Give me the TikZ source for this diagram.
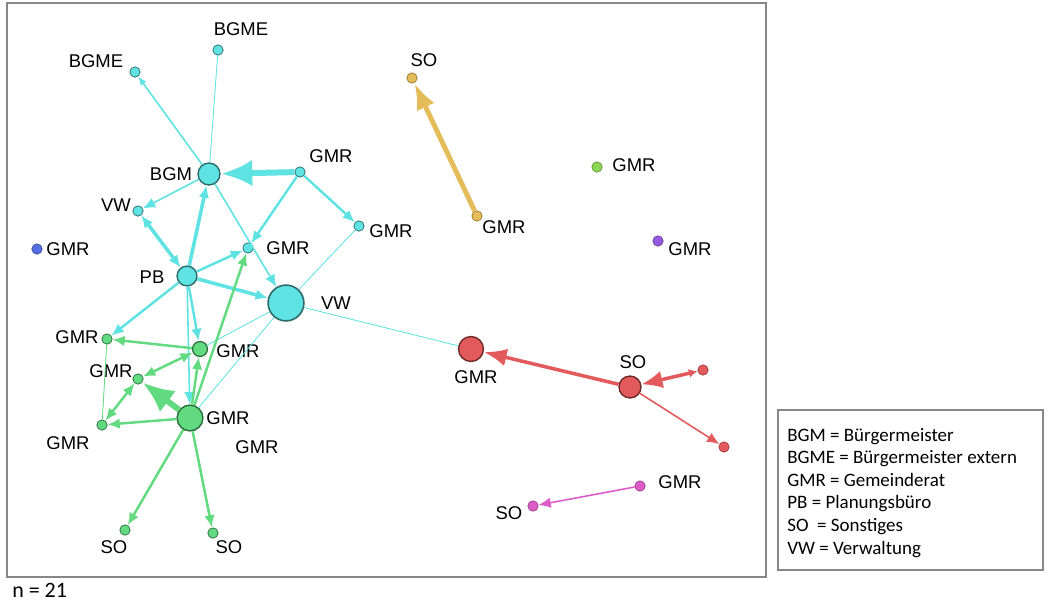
\documentclass[tikz,border=0pt]{standalone}
\usepackage{fontspec}
\setmainfont{Liberation Sans}
\newfontfamily\legfont{Carlito}
\usetikzlibrary{arrows.meta}
\definecolor{cy}{RGB}{94,226,226}
\definecolor{cyD}{RGB}{45,105,105}
\definecolor{gr}{RGB}{98,218,128}
\definecolor{grD}{RGB}{40,110,60}
\definecolor{rd}{RGB}{226,90,92}
\definecolor{rdD}{RGB}{110,40,40}
\definecolor{ye}{RGB}{228,188,90}
\definecolor{yeD}{RGB}{150,120,50}
\definecolor{lg}{RGB}{140,214,84}
\definecolor{pu}{RGB}{150,90,225}
\definecolor{bl}{RGB}{85,110,225}
\definecolor{mg}{RGB}{222,92,200}
\definecolor{frame}{RGB}{135,135,135}
\tikzset{every picture/.style={x=0.02cm, y=-0.02cm}}
\tikzset{dot/.style={circle, draw, line width=0.4pt, inner sep=0pt, minimum size=5.9pt}}
\tikzset{lbl/.style={inner sep=0pt, font=\fontsize{10.5}{12}\selectfont}}
\tikzset{leg/.style={inner sep=0pt, anchor=base west, font=\legfont\fontsize{10.8}{12}\selectfont}}
\tikzset{ce/.style={draw=cy, fill=cy}, ge/.style={draw=gr, fill=gr}}
\tikzset{w0/.style={line width=0.45pt}, w1/.style={line width=0.9pt},
  w2/.style={line width=1.4pt}, w3/.style={line width=2pt},
  w4/.style={line width=2.8pt}, w5/.style={line width=3.4pt}}
\tikzset{ar/.style={-{Latex[length=7pt,width=6pt]}},
  dar/.style={{Latex[length=7pt,width=6pt]}-{Latex[length=7pt,width=6pt]}},
  midar/.style={-{Latex[length=15pt,width=11pt]}},
  bigar/.style={-{Latex[length=18pt,width=15pt]}}}

\begin{document}
\begin{tikzpicture}
\useasboundingbox (0,0) rectangle (1048,602);
\draw[frame, line width=0.6pt] (7,3) rectangle (766,577);

% cyan group
\foreach \n/\x/\y in {me1/135/72, me2/218/50, c1/300/172, vs/138/211, c2/359/226, c3/248/248}
  \node[dot, fill=cy, draw=cyD] (\n) at (\x,\y) {};
\node[dot, fill=cy, draw=cyD, line width=0.8pt, minimum size=12.5pt] (bgm) at (209,174) {};
\node[dot, fill=cy, draw=cyD, line width=0.8pt, minimum size=11.3pt] (pb) at (187,276) {};
\node[dot, fill=cy, draw=cyD, line width=0.9pt, minimum size=20.4pt] (vw) at (286,303) {};

% green group
\foreach \n/\x/\y in {g1/107/339, g3/138/379, g5/102/425, so1/125/530, so2/213/533}
  \node[dot, fill=gr, draw=grD] (\n) at (\x,\y) {};
\node[dot, fill=gr, draw=grD, line width=0.7pt, minimum size=8.5pt] (g2) at (200,349) {};
\node[dot, fill=gr, draw=grD, line width=0.8pt, minimum size=14.7pt] (g4) at (190,418) {};

% red group
\node[dot, fill=rd, draw=rdD, line width=0.8pt, minimum size=14.2pt] (rgm) at (471,349) {};
\node[dot, fill=rd, draw=rdD, line width=0.8pt, minimum size=12.5pt] (rso) at (630,387) {};
\node[dot, fill=rd, draw=rd!70!black] (r1) at (703,370) {};
\node[dot, fill=rd, draw=rd!70!black] (r2) at (724,447) {};

% others
\node[dot, fill=ye, draw=yeD] (yso) at (412,78) {};
\node[dot, fill=ye, draw=yeD] (ygm) at (477,216) {};
\node[dot, fill=lg, draw=lg!70!black] (lgm) at (597,167) {};
\node[dot, fill=pu, draw=pu!70!black] (pgm) at (658,241) {};
\node[dot, fill=bl, draw=bl!70!black] (bgmr) at (37,249) {};
\node[dot, fill=mg, draw=mg!70!black] (mgm) at (640,486) {};
\node[dot, fill=mg, draw=mg!70!black] (mso) at (533,506) {};

% labels
\foreach \n/\x/\y/\t in {me1/96/61/BGME, me2/241/29/BGME, bgm/171/174/BGM, c1/331/156/GMR,
  vs/116/205/VW, c2/391/231/GMR, c3/288/248/GMR, pb/152/277/PB, vw/336/303/VW,
  bgmr/68/249/GMR, g1/77/337/GMR, g2/238/351/GMR, g3/111/371/GMR, g4/228/418/GMR,
  g5/68/443/GMR, x/257/447/GMR, so1/114/547/SO, so2/229/547/SO, yso/424/60/SO,
  ygm/504/227/GMR, lgm/634/165/GMR, pgm/690/249/GMR, rgm/476/377/GMR, rso/633/362/SO,
  mgm/680/482/GMR, mso/509/513/SO}
  \node[lbl] (l\n) at (\x,\y) {\t};

% cyan edges
\draw[ce, w1, -{Latex[length=5pt,width=4pt]}] (bgm) -- (me1);
\draw[ce, w0] (bgm) -- (me2);
\draw[ce, w5, bigar] (c1) -- (bgm);
\draw[ce, w2, ar] (c1) -- (c3);
\draw[ce, w2, ar] (c1) -- (c2);
\draw[ce, w1, ar] (bgm) -- (vs);
\draw[ce, w3, dar] (vs) -- (pb);
\draw[ce, w3, ar] (pb) -- (bgm);
\draw[ce, w1, ar] (bgm) -- (vw);
\draw[ce, w2, ar] (pb) -- (c3);
\draw[ce, w3, ar] (pb) -- (vw);
\draw[ce, w0] (c2) -- (vw);
\draw[ce, w2, ar] (pb) -- (g1);
\draw[ce, w2, ar] (pb) -- (g2);
\draw[ce, w1, ar] (pb) -- (g4);
\draw[ce, w0] (vw) -- (g2);
\draw[ce, w0] (vw) -- (g4);
\draw[ce, w0] (vw) -- (rgm);

% green edges
\draw[ge, w2, ar] (g4) -- (c3);
\draw[ge, w2, ar] (g2) -- (g1);
\draw[ge, w2, dar] (g2) -- (g3);
\draw[ge, w2, ar] (g4) -- (g2);
\draw[ge, w5, bigar] (g4) -- (g3);
\draw[ge, w2, ar] (g4) -- (g5);
\draw[ge, w2, dar] (g3) -- (g5);
\draw[ge, w0] (g1) -- (g5);
\draw[ge, w2, ar] (g4) -- (so1);
\draw[ge, w2, ar] (g4) -- (so2);

% other edges
\draw[draw=ye, fill=ye, w4, midar] (ygm) -- (yso);
\draw[draw=rd, fill=rd, w3, -{Latex[length=13pt,width=10pt]}] (rso) -- (rgm);
\draw[draw=rd, fill=rd, w3, {Latex[length=5pt,width=5pt]}-{Latex[length=12pt,width=10pt]}] (r1) -- (rso);
\draw[draw=rd, fill=rd, w1, ar] (rso) -- (r2);
\draw[draw=mg, fill=mg, w1, ar] (mgm) -- (mso);

% legend
\draw[frame, line width=1.3pt] (778,410) rectangle (1043,570);
\foreach \i/\t in {0/BGM = Bürgermeister, 1/BGME = Bürgermeister extern, 2/GMR = Gemeinderat,
  3/PB = Planungsbüro, 4/SO\ \ = Sonstiges, 5/VW = Verwaltung}
  \node[leg] (leg\i) at (787,441+22.6*\i) {\t};
\node[leg, font=\legfont\fontsize{12.5}{14}\selectfont] (n) at (12,597) {n = 21};
\end{tikzpicture}
\end{document}
